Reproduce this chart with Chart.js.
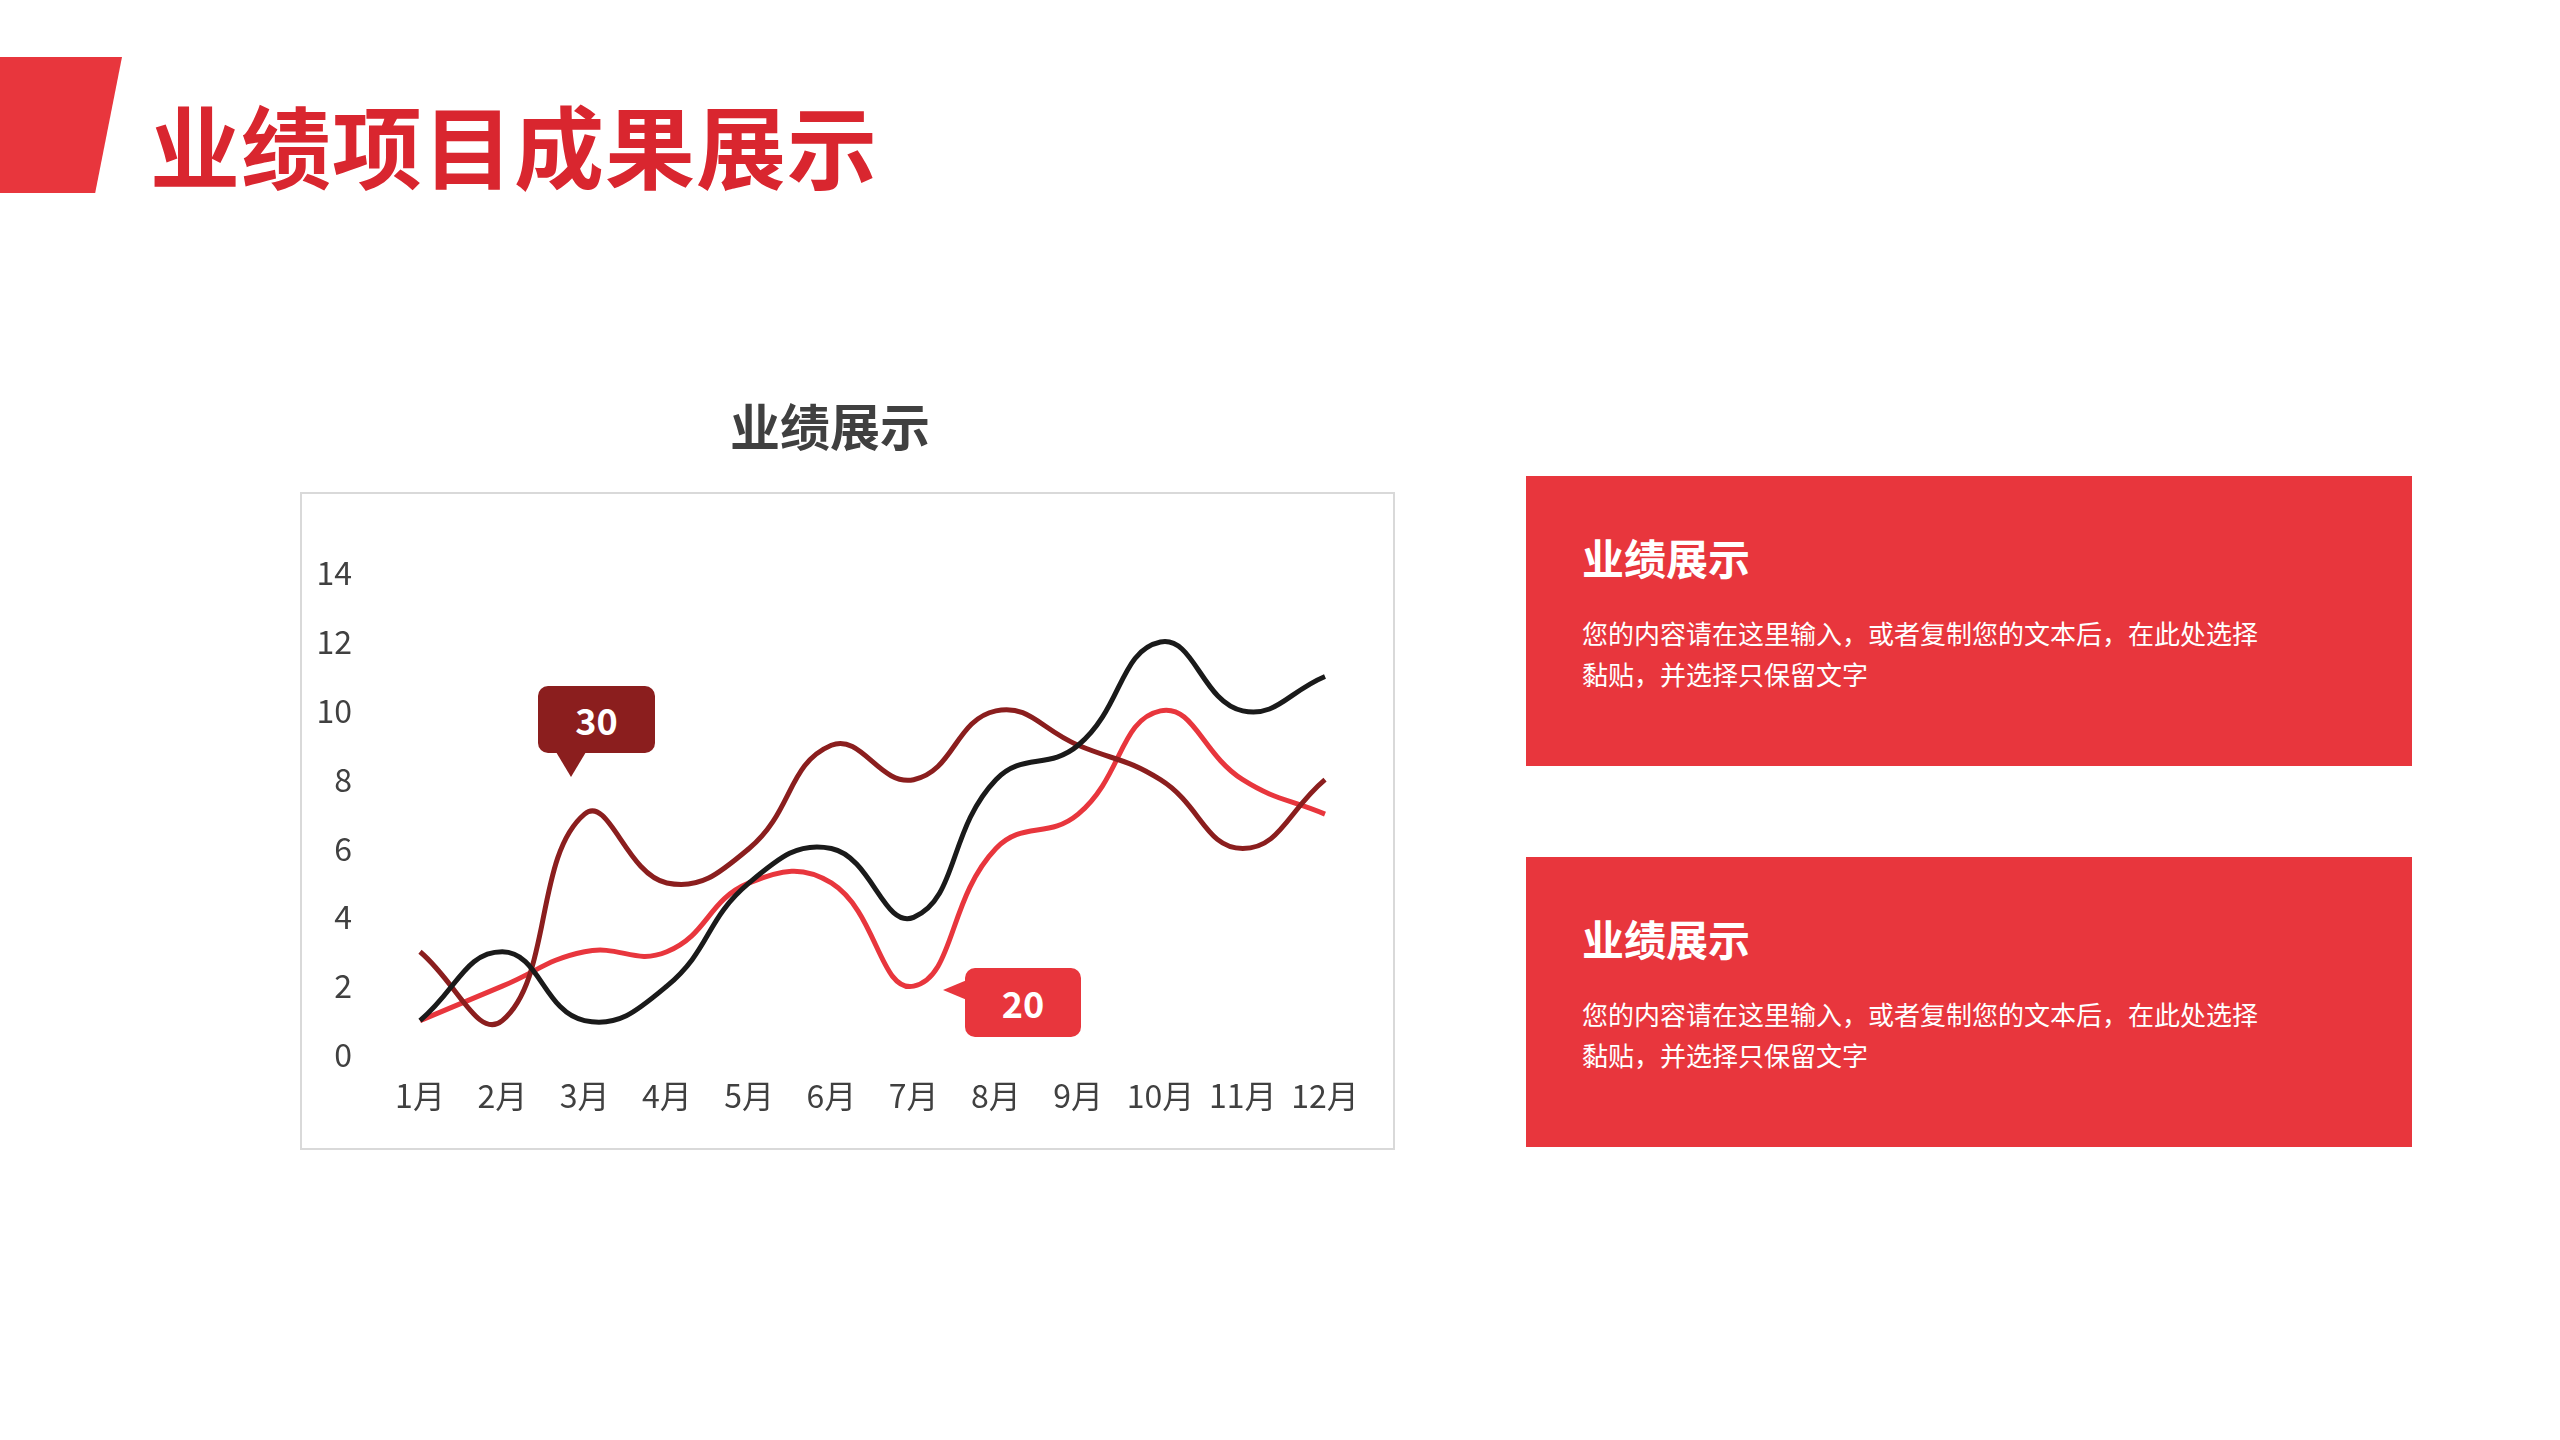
<!DOCTYPE html>
<html>
<head>
<meta charset="utf-8">
<script src="https://cdn.jsdelivr.net/npm/chart.js@4/dist/chart.umd.min.js"></script>
<style>
  body { margin: 0; width: 2560px; height: 1440px; background: #fff; position: relative; overflow: hidden;
         font-family: "Noto Sans CJK SC", "Noto Sans", sans-serif; }
  .tag { position: absolute; left: 0; top: 57px; width: 122px; height: 136px; background: #e8363d;
         clip-path: polygon(0 0, 100% 0, 78% 100%, 0 100%); }
  .title { position: absolute; left: 150px; top: 98px; font-size: 90px; font-weight: 700; color: #d9262f; line-height: 1; letter-spacing: 1px; }
  .ctitle { position: absolute; left: 300px; width: 1060px; top: 388px; text-align: center; font-size: 50px; font-weight: 700; color: #404040; }
  .box { position: absolute; left: 300px; top: 492px; width: 1091px; height: 654px; border: 2px solid #d9d9d9; }
  .box canvas { position: absolute; left: 0; top: 0; }
  .panel { position: absolute; left: 1526px; width: 886px; height: 290px; background: #e8363d; color: #fff; }
  .panel h3 { margin: 0; position: absolute; left: 56px; top: 52px; font-size: 42px; font-weight: 700; line-height: 1.4; }
  .panel p { margin: 0; position: absolute; left: 56px; top: 136px; font-size: 26px; line-height: 41px; }
  .call { position: absolute; color: #fff; font-weight: 700; font-size: 36px; text-align: center; border-radius: 10px; }
</style>
</head>
<body>
<div class="tag"></div>
<div class="title">业绩项目成果展示</div>
<div class="ctitle">业绩展示</div>
<div class="box"><canvas id="c" width="1091" height="654"></canvas></div>

<div class="call" style="left:538px;top:686px;width:117px;height:67px;line-height:67px;background:#8b1e1e;">30</div>
<div style="position:absolute;left:556px;top:752px;width:0;height:0;border-left:15px solid transparent;border-right:15px solid transparent;border-top:25px solid #8b1e1e;"></div>
<div class="call" style="left:965px;top:968px;width:116px;height:69px;line-height:69px;background:#e8363d;">20</div>
<div style="position:absolute;left:943px;top:980px;width:0;height:0;border-top:10px solid transparent;border-bottom:10px solid transparent;border-right:24px solid #e8363d;"></div>

<div class="panel" style="top:476px;"><h3>业绩展示</h3><p>您的内容请在这里输入，或者复制您的文本后，在此处选择<br>黏贴，并选择只保留文字</p></div>
<div class="panel" style="top:857px;"><h3>业绩展示</h3><p>您的内容请在这里输入，或者复制您的文本后，在此处选择<br>黏贴，并选择只保留文字</p></div>

<script>
const months = ["1月","2月","3月","4月","5月","6月","7月","8月","9月","10月","11月","12月"];
const blackSeries = [1,3,1,2,5,6,4,8,9,12,10,11];
const darkRedSeries = [3,1,7,5,6,9,8,10,9,8,6,8];
const redSeries = [1,2,3,3,5,5,2,6,7,10,8,7];

const line = (data, color) => ({ data, borderColor: color, borderWidth: 5, pointRadius: 0, tension: 0.45, fill: false });

new Chart(document.getElementById("c"), {
  type: "line",
  data: {
    labels: months,
    datasets: [line(blackSeries, "#1a1a1a"), line(darkRedSeries, "#8b1e1e"), line(redSeries, "#e8363d")]
  },
  options: {
    responsive: false,
    animation: false,
    layout: { padding: { top: 30, right: 68, left: 0, bottom: 0 } },
    plugins: { legend: { display: false }, tooltip: { enabled: false } },
    scales: {
      x: {
        grid: { display: false }, border: { display: false },
        ticks: { color: "#404040", font: { size: 32, family: "Noto Sans CJK SC" }, padding: 14, maxRotation: 0, autoSkip: false },
        afterFit: s => { s.height = 93; }
      },
      y: {
        min: 0, max: 14,
        grid: { display: false }, border: { display: false },
        ticks: { stepSize: 2, color: "#404040", font: { size: 32, family: "Noto Sans CJK SC" }, padding: 60 },
        afterFit: s => { s.width = 118; }
      }
    }
  }
});
</script>
</body>
</html>
